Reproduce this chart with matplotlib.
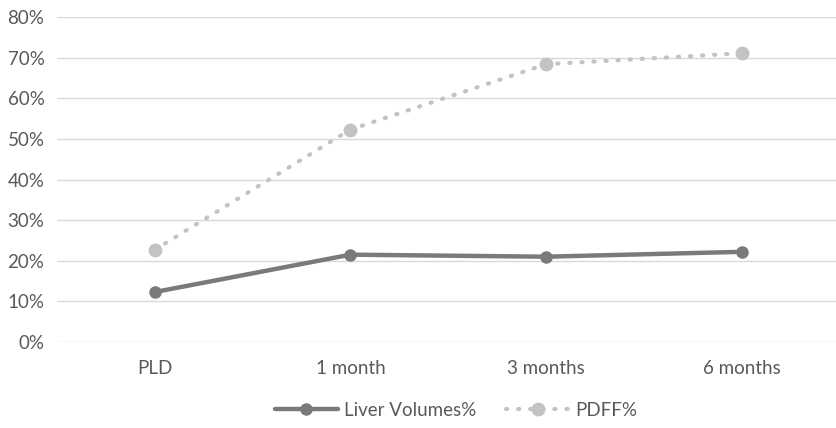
import numpy as np
import matplotlib.pyplot as plt
from matplotlib.ticker import PercentFormatter

plt.rcParams['font.family'] = ['Lato', 'DejaVu Sans']

categories = ["PLD", "1 month", "3 months", "6 months"]
liver_volumes = [12.3, 21.5, 21.0, 22.2]
pdff = [22.7, 52.3, 68.4, 71.1]

fig = plt.figure(figsize=(8.37, 4.28), dpi=100)
ax = fig.add_axes([0.068, 0.201, 0.935, 0.759])

x = np.arange(len(categories))
ax.plot(x, liver_volumes, color='#7a7a7a', lw=3.2, marker='o', markersize=8,
        label='Liver Volumes%', solid_capstyle='round', zorder=3)
ax.plot(x, pdff, color='#c3c3c3', lw=3, linestyle=(0, (0.3, 2.6)),
        dash_capstyle='round', marker='o', markersize=9,
        label='PDFF%', zorder=3)

ax.set_xlim(-0.5, 3.5)
ax.set_ylim(0, 80)
ax.set_yticks(np.arange(0, 81, 10))
ax.yaxis.set_major_formatter(PercentFormatter(decimals=0))
ax.set_xticks(x)
ax.set_xticklabels(categories)
ax.grid(axis='y', color='#d9d9d9', lw=1)
ax.set_axisbelow(True)
for s in ax.spines.values():
    s.set_visible(False)
ax.tick_params(length=0, labelsize=13.5, labelcolor='#595959')
ax.tick_params(axis='x', pad=13)
ax.tick_params(axis='y', pad=9)

leg = ax.legend(loc='center', bbox_to_anchor=(0.51, -0.21), ncol=2, frameon=False,
                fontsize=13.5, handlelength=3.4, columnspacing=1.6, handletextpad=0.3)
for t in leg.get_texts():
    t.set_color('#595959')

plt.savefig('out.png', dpi=100)
